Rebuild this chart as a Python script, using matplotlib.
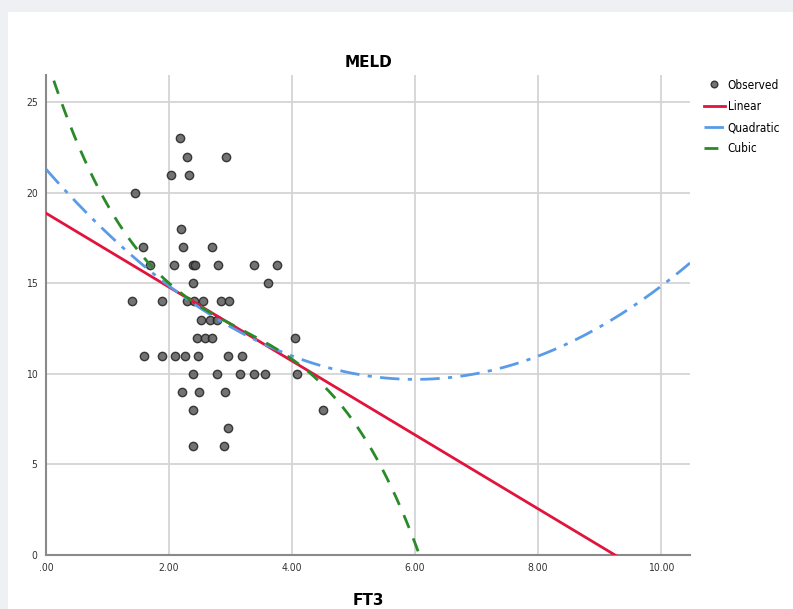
import matplotlib.pyplot as plt
import numpy as np
from matplotlib.patches import Rectangle

# observed FT3 / MELD pairs
ft3 = [2.18,
       2.29, 2.93,
       2.03, 2.33,
       1.45,
       2.20,
       1.58, 2.23, 2.70,
       1.69, 2.08, 2.39, 2.42, 2.80, 3.38, 3.76,
       2.39, 3.61,
       1.40, 1.89, 2.29, 2.41, 2.55, 2.85, 2.98,
       2.52, 2.67, 2.78,
       2.45, 2.59, 2.70, 4.05,
       1.59, 1.89, 2.10, 2.26, 2.47, 2.96, 3.19,
       2.39, 2.78, 3.15, 3.38, 3.56, 4.08,
       2.21, 2.49, 2.91,
       2.39, 4.50,
       2.96,
       2.39, 2.90]
meld = [23,
        22, 22,
        21, 21,
        20,
        18,
        17, 17, 17,
        16, 16, 16, 16, 16, 16, 16,
        15, 15,
        14, 14, 14, 14, 14, 14, 14,
        13, 13, 13,
        12, 12, 12, 12,
        11, 11, 11, 11, 11, 11, 11,
        10, 10, 10, 10, 10, 10,
        9, 9, 9,
        8, 8,
        7,
        6, 6]

# fitted model coefficients (highest power first), estimated from the curves
linear_coef = [-2.04, 18.87]
quad_coef = [0.322, -3.866, 21.3]
cubic_coef = [-0.2972, 2.8208, -10.70, 27.5]

xticks = [0, 2, 4, 6, 8, 10]
xtick_labels = [".00", "2.00", "4.00", "6.00", "8.00", "10.00"]
yticks = [0, 5, 10, 15, 20, 25]

fig = plt.figure(figsize=(7.93, 6.09), dpi=100, facecolor='#eef0f3')
fig.patches.append(Rectangle((8/793, 0), 1, 1 - 12/609, transform=fig.transFigure,
                             facecolor='white', edgecolor='none', zorder=-5))
ax = fig.add_axes([46/793, 54/609, 644/793, 480/609])
ax.set_facecolor('white')

xs = np.linspace(0, 10.47, 400)
ax.plot(ft3, meld, 'o', ms=6, mfc='#5a5a5a', mec='#222222', mew=1.0, alpha=0.85,
        label='Observed', zorder=3)
ax.plot(xs, np.polyval(linear_coef, xs), color='#e0143c', lw=2, label='Linear', zorder=4)
ax.plot(xs, np.polyval(quad_coef, xs), color='#5a9be8', lw=2, dashes=(7, 3, 1.5, 3),
        label='Quadratic', zorder=4)
ax.plot(xs, np.polyval(cubic_coef, xs), color='#2a8a2a', lw=2, dashes=(5, 4),
        label='Cubic', zorder=4)

ax.set_xlim(0, 10.47)
ax.set_ylim(0, 26.5)
ax.set_xticks(xticks)
ax.set_xticklabels(xtick_labels, fontstretch='condensed')
ax.set_yticks(yticks)
ax.set_yticklabels([str(v) for v in yticks], fontstretch='condensed')
ax.grid(True, color='#d4d4d4', lw=1.3)
ax.set_axisbelow(True)
for s in ['top', 'right']:
    ax.spines[s].set_visible(False)
for s in ['left', 'bottom']:
    ax.spines[s].set_color('#8a8a8a')
    ax.spines[s].set_linewidth(1.5)
ax.tick_params(length=0, labelsize=7.5, colors='#333333', pad=6)

ax.set_title('MELD', fontsize=11, fontweight='bold', pad=6)
ax.set_xlabel('FT3', fontsize=11, fontweight='bold', labelpad=14)

ax.legend(loc='upper left', bbox_to_anchor=(1 + 10/644, 1.0), frameon=False,
          prop={'size': 8.5, 'stretch': 'condensed'}, markerscale=0.8,
          handlelength=1.8, handletextpad=0.25, labelspacing=0.7, borderaxespad=0.0,
          borderpad=0.3)

fig.savefig('out.png', dpi=100, facecolor=fig.get_facecolor())
